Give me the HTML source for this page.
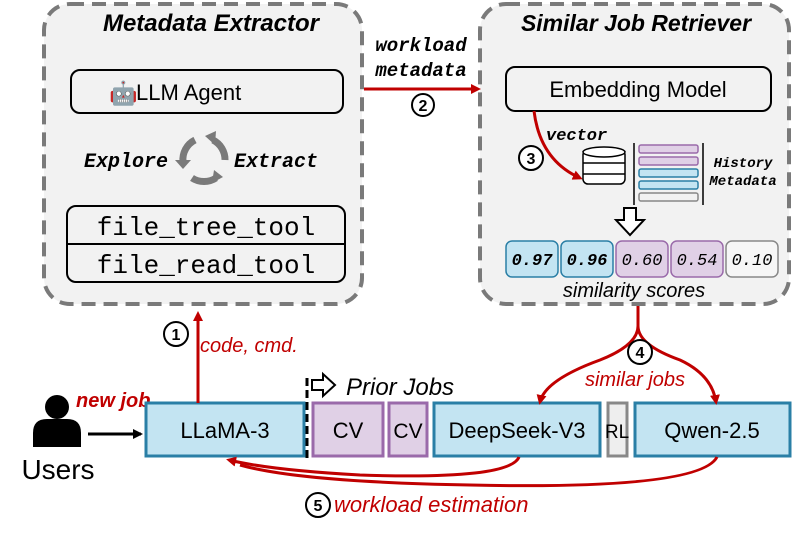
<!DOCTYPE html>
<html><head><meta charset="utf-8"><style>
html,body{margin:0;padding:0;background:#fff;}
svg{display:block;font-family:"Liberation Sans",sans-serif;}
.m{font-family:"Liberation Mono",monospace;}
</style></head><body>
<svg width="797" height="534" viewBox="0 0 797 534">
<defs>
<marker id="ar" markerWidth="10" markerHeight="10" refX="7" refY="5" orient="auto" markerUnits="userSpaceOnUse"><path d="M0,0 L10,5 L0,10 z" fill="#c00000"/></marker>
<marker id="ab" markerWidth="10" markerHeight="10" refX="8" refY="5" orient="auto" markerUnits="userSpaceOnUse"><path d="M0,0 L10,5 L0,10 z" fill="#000"/></marker>
</defs>
<rect x="44" y="4" width="318" height="300" rx="26" fill="#f2f2f2" stroke="#7a7a7a" stroke-width="4" stroke-dasharray="14,8"/>
<rect x="480" y="4" width="309" height="300" rx="26" fill="#f2f2f2" stroke="#7a7a7a" stroke-width="4" stroke-dasharray="14,8"/>
<text x="211" y="31" font-size="24" font-weight="bold" font-style="italic" text-anchor="middle">Metadata Extractor</text>
<text x="636" y="31" font-size="23" font-weight="bold" font-style="italic" text-anchor="middle">Similar Job Retriever</text>
<rect x="71" y="70" width="272" height="43" rx="9" fill="#f2f2f2" stroke="#000" stroke-width="2"/>
<text x="109" y="101" font-size="23">🤖</text>
<text x="136" y="100" font-size="22">LLM Agent</text>
<text x="84" y="167" class="m" font-size="20" font-weight="bold" font-style="italic">Explore</text>
<text x="234" y="167" class="m" font-size="20" font-weight="bold" font-style="italic">Extract</text>
<g fill="none" stroke="#7a7a7a" stroke-width="7">
<path d="M195,140 A22,22 0 0 0 183,162"/>
<path d="M213,140 A22,22 0 0 1 225,160"/>
<path d="M192,178 A22,22 0 0 0 216,178"/>
</g>
<g fill="#7a7a7a"><path d="M175,160 l16,0 l-8,9z"/><path d="M205,136 l11,-5 l-1,14z"/><path d="M214,170 l9,7 l-11,6z"/></g>
<rect x="67" y="206" width="278" height="76" rx="9" fill="#f2f2f2" stroke="#000" stroke-width="2"/>
<line x1="67" y1="244" x2="345" y2="244" stroke="#000" stroke-width="2"/>
<text x="206" y="235" class="m" font-size="26" text-anchor="middle">file_tree_tool</text>
<text x="206" y="273" class="m" font-size="26" text-anchor="middle">file_read_tool</text>
<text x="421" y="51" class="m" font-size="19" font-weight="bold" font-style="italic" text-anchor="middle">workload</text>
<text x="421" y="76" class="m" font-size="19" font-weight="bold" font-style="italic" text-anchor="middle">metadata</text>
<line x1="364" y1="89" x2="478" y2="89" stroke="#c00000" stroke-width="3" marker-end="url(#ar)"/>
<circle cx="423" cy="105" r="11" fill="#fff" stroke="#000" stroke-width="2"/><text x="423" y="111" font-size="16" font-weight="bold" text-anchor="middle">2</text>
<rect x="506" y="67" width="265" height="44" rx="9" fill="#f2f2f2" stroke="#000" stroke-width="2"/>
<text x="638" y="97" font-size="22" text-anchor="middle">Embedding Model</text>
<path d="M534,111 Q540,160 580,178" fill="none" stroke="#c00000" stroke-width="3" marker-end="url(#ar)"/>
<text x="546" y="140" class="m" font-size="17" font-weight="bold" font-style="italic">vector</text>
<circle cx="531" cy="158" r="12" fill="#fff" stroke="#000" stroke-width="2"/><text x="531" y="164" font-size="16" font-weight="bold" text-anchor="middle">3</text>
<g fill="#fff" stroke="#000" stroke-width="1.5">
<rect x="583" y="150" width="42" height="34" rx="5"/>
<ellipse cx="604" cy="152" rx="21" ry="5"/>
<line x1="583" y1="163" x2="625" y2="163"/><line x1="583" y1="174" x2="625" y2="174"/>
</g>
<line x1="634" y1="143" x2="634" y2="205" stroke="#000" stroke-width="1.5"/>
<line x1="703" y1="143" x2="703" y2="205" stroke="#000" stroke-width="1.5"/>
<rect x="639" y="145" width="59" height="8" rx="2" fill="#e0d0e6" stroke="#9a6aaa" stroke-width="1.5"/>
<rect x="639" y="157" width="59" height="8" rx="2" fill="#e0d0e6" stroke="#9a6aaa" stroke-width="1.5"/>
<rect x="639" y="169" width="59" height="8" rx="2" fill="#c3e4f2" stroke="#2a7fa6" stroke-width="1.5"/>
<rect x="639" y="181" width="59" height="8" rx="2" fill="#c3e4f2" stroke="#2a7fa6" stroke-width="1.5"/>
<rect x="639" y="193" width="59" height="8" rx="2" fill="#f2f2f2" stroke="#888" stroke-width="1.5"/>
<text x="743" y="167" class="m" font-size="14" font-style="italic" font-weight="bold" text-anchor="middle">History</text>
<text x="743" y="185" class="m" font-size="14" font-style="italic" font-weight="bold" text-anchor="middle">Metadata</text>
<path d="M624,208 h12 v12 h8 l-14,15 l-14,-15 h8z" fill="#fff" stroke="#000" stroke-width="2"/>
<g font-size="17" class="m" font-style="italic" text-anchor="middle">
<rect x="506" y="241" width="52" height="36" rx="6" fill="#c3e4f2" stroke="#2a7fa6" stroke-width="1.5"/><text x="532" y="265" font-weight="bold">0.97</text>
<rect x="561" y="241" width="52" height="36" rx="6" fill="#c3e4f2" stroke="#2a7fa6" stroke-width="1.5"/><text x="587" y="265" font-weight="bold">0.96</text>
<rect x="616" y="241" width="52" height="36" rx="6" fill="#e0d0e6" stroke="#9a6aaa" stroke-width="1.5"/><text x="642" y="265">0.60</text>
<rect x="671" y="241" width="52" height="36" rx="6" fill="#e0d0e6" stroke="#9a6aaa" stroke-width="1.5"/><text x="697" y="265">0.54</text>
<rect x="726" y="241" width="52" height="36" rx="6" fill="#f6f6f6" stroke="#888" stroke-width="1.5"/><text x="752" y="265">0.10</text>
</g>
<text x="634" y="297" font-size="20" font-style="italic" text-anchor="middle">similarity scores</text>
<circle cx="57" cy="407" r="12" fill="#000"/>
<path d="M33,447 v-14 q0,-14 14,-14 h20 q14,0 14,14 v14z" fill="#000"/>
<text x="58" y="479" font-size="28" text-anchor="middle">Users</text>
<text x="76" y="407" font-size="20" font-weight="bold" font-style="italic" fill="#c00000">new job</text>
<line x1="88" y1="434" x2="141" y2="434" stroke="#000" stroke-width="3" marker-end="url(#ab)"/>
<rect x="146" y="403" width="158" height="53" fill="#c3e4f2" stroke="#2a7fa6" stroke-width="3"/>
<text x="225" y="438" font-size="22" text-anchor="middle">LLaMA-3</text>
<line x1="307" y1="378" x2="307" y2="460" stroke="#000" stroke-width="3" stroke-dasharray="8,4"/>
<path d="M312,380 h11 v-6 l12,11 l-12,11 v-6 h-11z" fill="#fff" stroke="#000" stroke-width="2"/>
<text x="346" y="395" font-size="24" font-style="italic">Prior Jobs</text>
<rect x="313" y="403" width="70" height="53" fill="#e0d0e6" stroke="#9a6aaa" stroke-width="3"/>
<text x="348" y="438" font-size="22" text-anchor="middle">CV</text>
<rect x="389" y="403" width="38" height="53" fill="#e0d0e6" stroke="#9a6aaa" stroke-width="3"/>
<text x="408" y="438" font-size="21" text-anchor="middle">CV</text>
<rect x="434" y="403" width="166" height="53" fill="#c3e4f2" stroke="#2a7fa6" stroke-width="3"/>
<text x="517" y="438" font-size="22" text-anchor="middle">DeepSeek-V3</text>
<rect x="608" y="403" width="19" height="53" fill="#eee" stroke="#888" stroke-width="3"/>
<text x="617" y="438" font-size="19" text-anchor="middle">RL</text>
<rect x="635" y="403" width="155" height="53" fill="#c3e4f2" stroke="#2a7fa6" stroke-width="3"/>
<text x="712" y="438" font-size="22" text-anchor="middle">Qwen-2.5</text>
<line x1="198" y1="403" x2="198" y2="314" stroke="#c00000" stroke-width="3" marker-end="url(#ar)"/>
<circle cx="176" cy="334" r="12" fill="#fff" stroke="#000" stroke-width="2"/><text x="176" y="340" font-size="16" font-weight="bold" text-anchor="middle">1</text>
<text x="200" y="352" font-size="20" font-style="italic" fill="#c00000">code, cmd.</text>
<path d="M638,306 v20 Q638,345 600,360 Q545,380 540,402" fill="none" stroke="#c00000" stroke-width="3" marker-end="url(#ar)"/>
<path d="M638,326 Q638,345 680,360 Q712,375 716,402" fill="none" stroke="#c00000" stroke-width="3" marker-end="url(#ar)"/>
<circle cx="640" cy="352" r="12" fill="#fff" stroke="#000" stroke-width="2"/><text x="640" y="358" font-size="16" font-weight="bold" text-anchor="middle">4</text>
<text x="635" y="386" font-size="20" font-style="italic" fill="#c00000" text-anchor="middle">similar jobs</text>
<path d="M519,457 Q510,480 360,475 Q270,470 229,460" fill="none" stroke="#c00000" stroke-width="3" marker-end="url(#ar)"/>
<path d="M717,457 Q700,490 470,485 Q300,482 240,465" fill="none" stroke="#c00000" stroke-width="3"/>
<circle cx="318" cy="505" r="12" fill="#fff" stroke="#000" stroke-width="2"/><text x="318" y="511" font-size="16" font-weight="bold" text-anchor="middle">5</text>
<text x="334" y="512" font-size="22" font-style="italic" fill="#c00000">workload estimation</text>
</svg>
</body></html>
